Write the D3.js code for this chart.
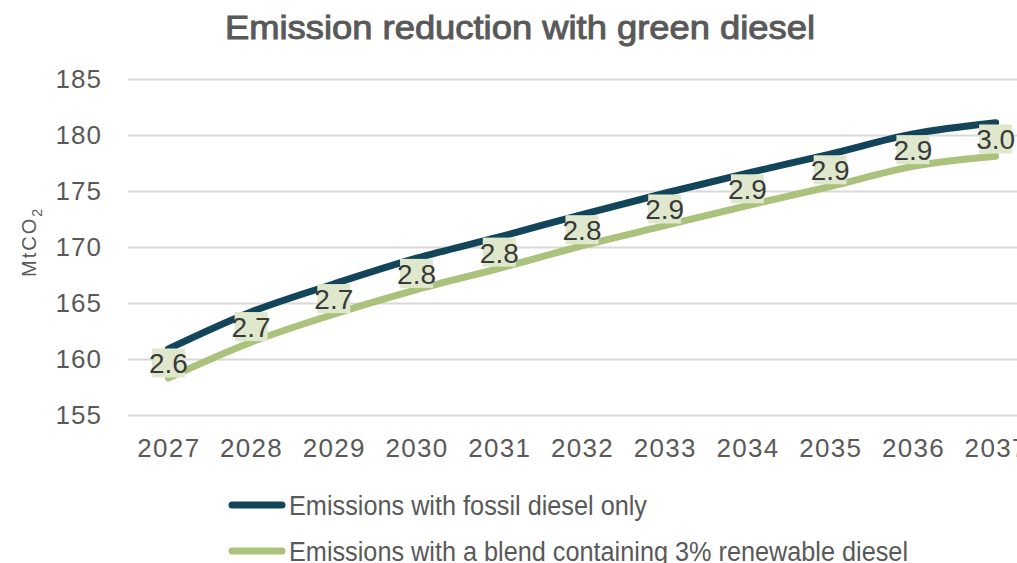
<!DOCTYPE html>
<html>
<head>
<meta charset="utf-8">
<script src="https://cdn.jsdelivr.net/npm/d3@7"></script>
<style>
  html, body { margin: 0; padding: 0; background: #fff; overflow: hidden; }
  svg { display: block; }
</style>
</head>
<body>
<svg id="chart" width="1017" height="563"></svg>
<script>
// Annual emissions (MtCO2)
const years = [2027, 2028, 2029, 2030, 2031, 2032, 2033, 2034, 2035, 2036, 2037];
const fossilOnly = [160.9, 164.2, 166.7, 169.0, 170.9, 172.9, 174.8, 176.6, 178.3, 180.1, 181.1];
const blend3pct = [158.3, 161.5, 164.0, 166.2, 168.1, 170.1, 171.9, 173.7, 175.4, 177.2, 178.1];
// Reduction labels shown between the two lines
const reduction = [2.6, 2.7, 2.7, 2.8, 2.8, 2.8, 2.9, 2.9, 2.9, 2.9, 3.0];
const yTicks = [155, 160, 165, 170, 175, 180, 185];
const seriesNames = ["Emissions with fossil diesel only", "Emissions with a blend containing 3% renewable diesel"];
const seriesColors = ["#124559", "#aac27c"];

const svg = d3.select("#chart");
const font = "'Liberation Sans', Arial, sans-serif";
const grey = "#595959";

const x = d3.scalePoint().domain(years).range([127, 1037]).padding(0.5);
const y = d3.scaleLinear().domain([155, 185]).range([415, 79]);

// Title
svg.append("text")
  .attr("x", 520).attr("y", 39)
  .attr("text-anchor", "middle")
  .attr("font-family", font)
  .attr("font-size", 34)
  .attr("fill", grey)
  .attr("stroke", grey).attr("stroke-width", 1)
  .attr("textLength", 590).attr("lengthAdjust", "spacingAndGlyphs")
  .text("Emission reduction with green diesel");

// Horizontal gridlines + y axis labels
const yAxis = d3.axisLeft(y).tickValues(yTicks).tickSize(-(1037 - 128)).tickPadding(26);
const gy = svg.append("g").attr("transform", "translate(128,0)").call(yAxis);
gy.select(".domain").remove();
gy.selectAll(".tick line").attr("stroke", "#d9d9d9").attr("stroke-width", 2);
gy.selectAll(".tick text")
  .attr("font-family", font).attr("font-size", 26).attr("fill", grey)
  .attr("letter-spacing", 1);

// x axis labels
const xAxis = d3.axisBottom(x).tickSize(0).tickPadding(0);
const gx = svg.append("g").attr("transform", "translate(0,415)").call(xAxis);
gx.select(".domain").remove();
gx.selectAll(".tick text")
  .attr("dy", null).attr("y", 42)
  .attr("font-family", font).attr("font-size", 26).attr("fill", grey)
  .attr("letter-spacing", 1.3);

// y axis title
const yt = svg.append("text")
  .attr("transform", "translate(36,242) rotate(-90)")
  .attr("text-anchor", "middle")
  .attr("font-family", font).attr("font-size", 20).attr("fill", grey)
  .attr("letter-spacing", 2);
yt.append("tspan").text("MtCO");
yt.append("tspan").attr("font-size", 14).attr("dy", 6).text("2");

// Lines
const line = d3.line()
  .x((d, i) => x(years[i]))
  .y(d => y(d))
  .curve(d3.curveCatmullRom.alpha(0.5));

[fossilOnly, blend3pct].forEach((vals, k) => {
  svg.append("path")
    .datum(vals)
    .attr("d", line)
    .attr("fill", "none")
    .attr("stroke", seriesColors[k])
    .attr("stroke-width", 7)
    .attr("stroke-linecap", "round")
    .attr("stroke-linejoin", "round");
});

// Reduction labels, centred between the two lines
const lbl = svg.append("g").selectAll("g")
  .data(years)
  .join("g")
  .attr("transform", (d, i) => `translate(${x(d)},${(y(fossilOnly[i]) + y(blend3pct[i])) / 2})`);
lbl.append("rect")
  .attr("x", -16.5).attr("y", -15).attr("width", 33).attr("height", 29)
  .attr("fill", "#dfe8cc");
lbl.append("text")
  .attr("text-anchor", "middle")
  .attr("y", 10)
  .attr("font-family", font).attr("font-size", 28).attr("fill", "#3a3a3a")
  .text((d, i) => reduction[i].toFixed(1));

// Legend
const legendWidths = [358, 619];
const legend = svg.append("g");
seriesNames.forEach((name, k) => {
  const ly = 505 + k * 46;
  legend.append("line")
    .attr("x1", 232).attr("x2", 282).attr("y1", ly).attr("y2", ly)
    .attr("stroke", seriesColors[k]).attr("stroke-width", 7).attr("stroke-linecap", "round");
  legend.append("text")
    .attr("x", 289).attr("y", ly + 10)
    .attr("font-family", font).attr("font-size", 27).attr("fill", grey)
    .attr("textLength", legendWidths[k]).attr("lengthAdjust", "spacingAndGlyphs")
    .text(name);
});
</script>
</body>
</html>
